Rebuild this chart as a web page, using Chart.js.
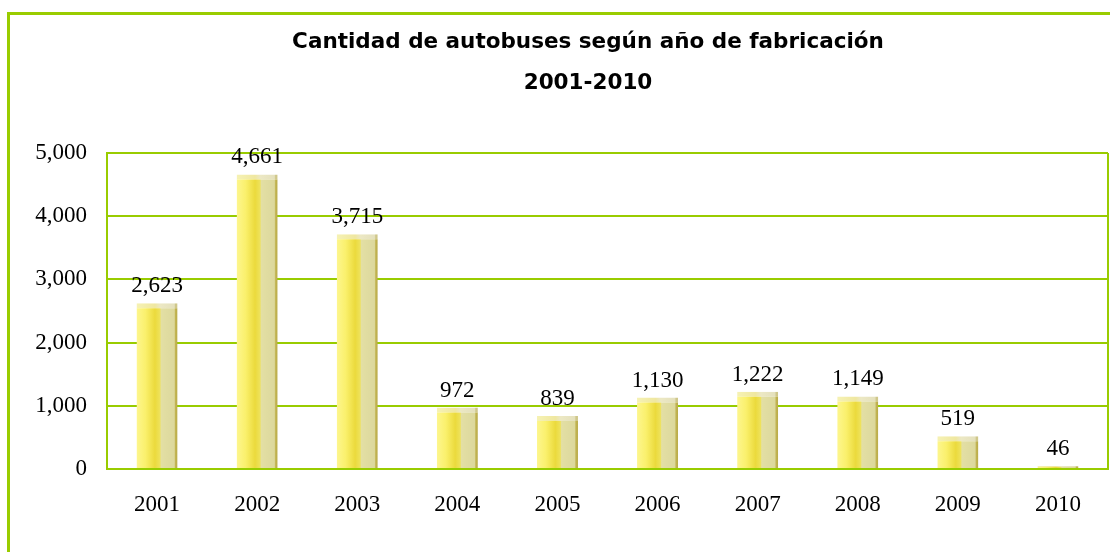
<!DOCTYPE html>
<html lang="es">
<head>
    <meta charset="UTF-8">
    <title>Autobuses según año de fabricación</title>
    <script src="https://cdn.jsdelivr.net/npm/chart.js"></script>
    <style>
        html, body {
            margin: 0;
            padding: 0;
            background: #ffffff;
            overflow: hidden;
            width: 1110px;
            height: 552px;
        }

        .frame {
            position: absolute;
            left: 7px;
            top: 12px;
            width: 1156px;
            height: 580px;
            border: 3px solid #99cc00;
        }
    </style>
</head>
<body>

    <div class="frame">
        <canvas id="busChart" width="1156" height="540"></canvas>
    </div>

    <script>
        const years = ['2001', '2002', '2003', '2004', '2005', '2006', '2007', '2008', '2009', '2010'];
        const buses = [2623, 4661, 3715, 972, 839, 1130, 1222, 1149, 519, 46];
        const titleLines = ['Cantidad de autobuses según año de fabricación', '2001-2010'];

        const green = '#99cc00';
        const barWidth = 41;

        // horizontal "cylinder" look, built per bar from its x position
        function barGradient(ctx, light) {
            const chart = ctx.chart;
            const x = chart.scales.x ? chart.scales.x.getPixelForValue(ctx.dataIndex) : NaN;
            if (!isFinite(x)) return light ? '#efe7a0' : '#eee25c';
            const g = chart.ctx.createLinearGradient(x - barWidth / 2, 0, x + barWidth / 2, 0);
            if (light) {
                g.addColorStop(0, '#f6f2b4');
                g.addColorStop(0.45, '#efe7a0');
                g.addColorStop(0.58, '#ece8c4');
                g.addColorStop(0.92, '#e4e0bc');
                g.addColorStop(0.95, '#cfc78a');
                g.addColorStop(1, '#cfc78a');
            } else {
                g.addColorStop(0, '#fdf68e');
                g.addColorStop(0.22, '#faf06c');
                g.addColorStop(0.45, '#ebda3c');
                g.addColorStop(0.57, '#eee25c');
                g.addColorStop(0.6, '#e3dfa4');
                g.addColorStop(0.92, '#dcd89c');
                g.addColorStop(0.95, '#c2b452');
                g.addColorStop(1, '#b8aa48');
            }
            return g;
        }

        const valueLabels = {
            id: 'valueLabels',
            afterDatasetsDraw(chart) {
                const ctx = chart.ctx;
                const meta = chart.getDatasetMeta(0);
                ctx.save();
                ctx.font = '23px "Liberation Serif", "Times New Roman", serif';
                ctx.fillStyle = '#000000';
                ctx.textAlign = 'center';
                ctx.textBaseline = 'alphabetic';
                meta.data.forEach((bar, i) => {
                    ctx.fillText(buses[i].toLocaleString('en-US'), bar.x, bar.y - 11);
                });
                ctx.restore();
            }
        };

        // right edge of the plot box
        const plotFrame = {
            id: 'plotFrame',
            beforeDatasetsDraw(chart) {
                const a = chart.chartArea;
                const ctx = chart.ctx;
                ctx.save();
                ctx.strokeStyle = green;
                ctx.lineWidth = 2;
                ctx.beginPath();
                ctx.moveTo(a.right, a.top);
                ctx.lineTo(a.right, a.bottom);
                ctx.stroke();
                ctx.restore();
            }
        };

        const ctx = document.getElementById('busChart').getContext('2d');
        new Chart(ctx, {
            type: 'bar',
            data: {
                labels: years,
                datasets: [{
                    data: buses,
                    backgroundColor: (c) => barGradient(c, false),
                    borderColor: (c) => barGradient(c, true),
                    borderWidth: { top: 5, left: 0, right: 0, bottom: 0 },
                    borderSkipped: false,
                    barPercentage: 0.41,
                    categoryPercentage: 1
                }]
            },
            options: {
                responsive: false,
                animation: false,
                plugins: {
                    legend: { display: false },
                    tooltip: { enabled: false },
                    title: {
                        display: true,
                        text: titleLines,
                        color: '#000000',
                        font: { family: '"DejaVu Sans", Tahoma, sans-serif', size: 21.5, weight: 'bold', lineHeight: 1.907 },
                        padding: { top: 7, bottom: 49 }
                    }
                },
                scales: {
                    x: {
                        grid: { display: false, drawTicks: false },
                        border: { display: true, color: green, width: 2 },
                        ticks: {
                            color: '#000000',
                            padding: 22,
                            font: { family: '"Liberation Serif", "Times New Roman", serif', size: 23 }
                        },
                        afterFit(scale) { scale.height = 86; }
                    },
                    y: {
                        min: 0,
                        max: 5000,
                        grid: { color: green, lineWidth: 2, drawTicks: false },
                        border: { display: true, color: green, width: 2 },
                        ticks: {
                            stepSize: 1000,
                            color: '#000000',
                            padding: 20,
                            font: { family: '"Liberation Serif", "Times New Roman", serif', size: 23 },
                            callback: (v) => v.toLocaleString('en-US')
                        },
                        afterFit(scale) { scale.width = 97; }
                    },
                    // empty spacer so the plot stops short of the frame's right side
                    spacer: {
                        position: 'right',
                        display: true,
                        grid: { display: false },
                        border: { display: false },
                        ticks: { display: false },
                        afterFit(scale) { scale.width = 58; }
                    }
                }
            },
            plugins: [valueLabels, plotFrame]
        });
    </script>

</body>
</html>
